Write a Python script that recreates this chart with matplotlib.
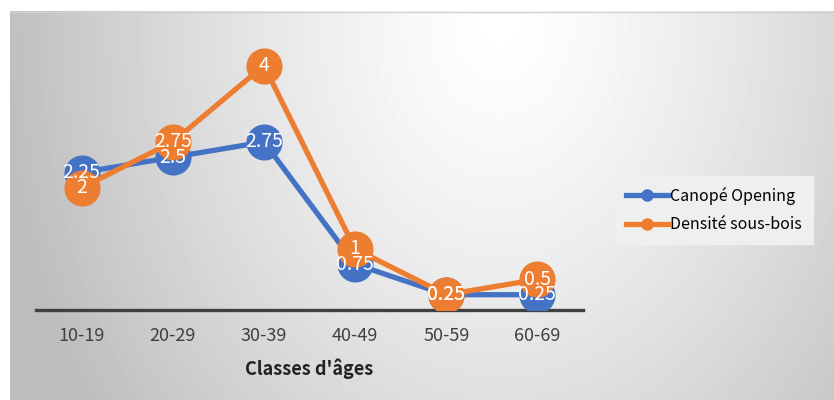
import numpy as np
import matplotlib.pyplot as plt
from matplotlib.lines import Line2D

plt.rcParams['font.family'] = ['Noto Sans CJK SC', 'DejaVu Sans']

classes = ["10-19", "20-29", "30-39", "40-49", "50-59", "60-69"]
canope = [2.25, 2.5, 2.75, 0.75, 0.25, 0.25]
densite = [2, 2.75, 4, 1, 0.25, 0.5]

blue = "#4472c4"
orange = "#ed7d31"

W, H = 834, 400
fig = plt.figure(figsize=(W / 100, H / 100), dpi=100)
fig.patch.set_facecolor("white")

# soft radial shading behind the plot
bg = fig.add_axes([10 / W, 0, (W - 10) / W, (H - 11) / H], zorder=-1)
bw, bh = W - 10, H - 11
xx, yy = np.meshgrid(np.arange(bw), np.arange(bh))
d = np.sqrt(((xx - 490) / 490.0) ** 2 + ((yy - 10) / 650.0) ** 2)
shade = np.clip(1.0 - 0.25 * d ** 1.3, 0.74, 1.0)
bg.imshow(shade, cmap="gray", vmin=0, vmax=1, aspect="auto",
          extent=[0, bw, bh, 0], interpolation="bilinear")
bg.axhline(0.5, color="#d0d0d0", lw=1)
bg.set_axis_off()

ax = fig.add_axes([36 / W, 90 / H, 547 / W, 275 / H])
ax.set_facecolor("none")
x = np.arange(len(classes))

ax.plot(x, canope, color=blue, lw=3.8, marker="o", ms=25, zorder=3)
ax.plot(x, densite, color=orange, lw=3.8, marker="o", ms=25, zorder=4)

for xi, v in zip(x, canope):
    ax.annotate(f"{v:g}", (xi, v), ha="center", va="center", color="white",
                fontsize=14, zorder=6)
for xi, v in zip(x, densite):
    ax.annotate(f"{v:g}", (xi, v), ha="center", va="center", color="white",
                fontsize=14, zorder=7)

ax.set_xlim(-0.5, len(classes) - 0.5)
ax.set_ylim(0, 4.5)
ax.set_xticks(x)
ax.set_xticklabels(classes, fontsize=13, color="#404040")
ax.tick_params(axis="x", length=0, pad=12)
ax.set_yticks([])
for s in ["top", "right", "left"]:
    ax.spines[s].set_visible(False)
ax.spines["bottom"].set_color("#404040")
ax.spines["bottom"].set_linewidth(2.4)
ax.set_xlabel("Classes d'âges", fontsize=13, fontweight="bold",
              color="#222222", labelpad=10)

handles = [Line2D([], [], color=blue, lw=3.8, marker="o", ms=8),
           Line2D([], [], color=orange, lw=3.8, marker="o", ms=8)]
leg = fig.legend(handles, ["Canopé Opening", "Densité sous-bois"],
                 loc="center left", bbox_to_anchor=(607 / W, 0.475),
                 fontsize=11.5, frameon=True, handlelength=2.6,
                 handletextpad=0.15, borderpad=0.7, labelspacing=0.7)
leg.get_frame().set_facecolor("#efefef")
leg.get_frame().set_edgecolor("#efefef")
leg.get_frame().set_alpha(1)
leg.get_frame().set_boxstyle("square", pad=0)

fig.savefig("out.png", dpi=100)
